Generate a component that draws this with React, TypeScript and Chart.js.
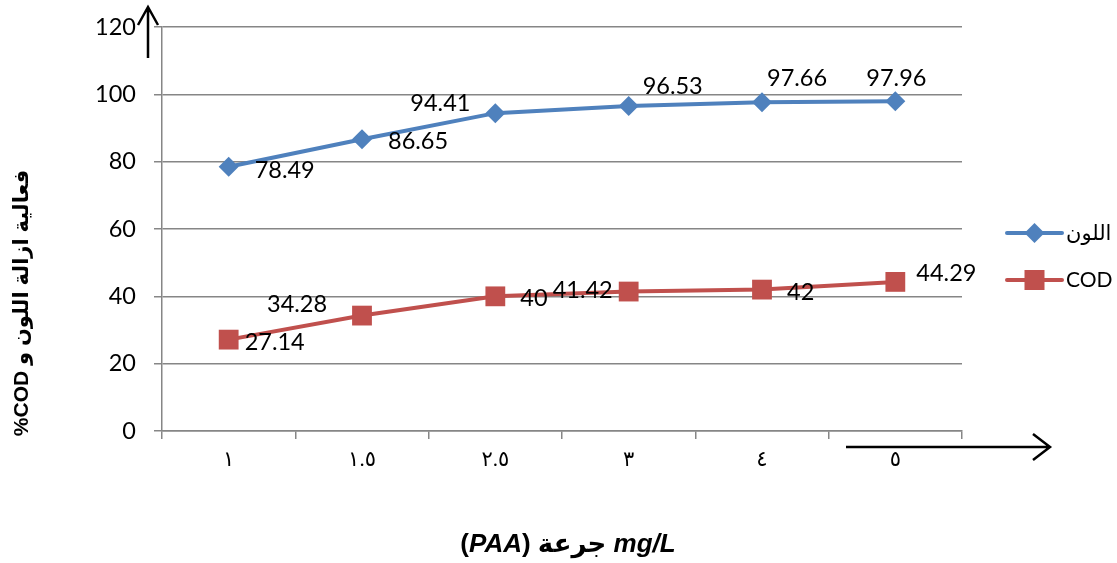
import React, { useEffect, useRef } from 'react';
import { Chart, registerables } from 'chart.js';

Chart.register(...registerables);

// ---- data ----
const categories = ['١', '١.٥', '٢.٥', '٣', '٤', '٥'];
const colorRemoval = [78.49, 86.65, 94.41, 96.53, 97.66, 97.96];
const codRemoval = [27.14, 34.28, 40, 41.42, 42, 44.29];
const seriesNames = ['اللون', 'COD'];
const yMin = 0;
const yMax = 120;
const yStep = 20;
const yTitle = 'فعالية ازالة اللون و COD%';
const xTitleUnit = 'mg/L';
const xTitleWord = 'جرعة';
const xTitleAgent = 'PAA';

// ---- styles ----
const BLUE = '#4F81BD';
const RED = '#C0504D';
const GRID = '#868686';
const LABEL_FONT = '23.5px Lato';
// per-point label offsets (px) relative to each point: [dx, dy]
const labelOffsets = [
  [[26, 4], [26, 2], [-85, -10], [14, -20], [5, -24], [-29, -23]],
  [[16, 3], [-95, -11], [25, 2], [-76, -1], [25, 3], [21, -8]],
];

function drawDiamond(ctx: CanvasRenderingContext2D, x: number, y: number, r: number, color: string) {
  ctx.beginPath();
  ctx.moveTo(x - r, y);
  ctx.lineTo(x, y - r);
  ctx.lineTo(x + r, y);
  ctx.lineTo(x, y + r);
  ctx.closePath();
  ctx.fillStyle = color;
  ctx.fill();
}

function drawSquare(ctx: CanvasRenderingContext2D, x: number, y: number, s: number, color: string) {
  ctx.fillStyle = color;
  ctx.fillRect(x - s / 2, y - s / 2, s, s);
}

function arrowLine(ctx: CanvasRenderingContext2D, x1: number, y1: number, x2: number, y2: number, head: number, half: number) {
  const ang = Math.atan2(y2 - y1, x2 - x1);
  ctx.beginPath();
  ctx.moveTo(x1, y1);
  ctx.lineTo(x2, y2);
  const bx = x2 - Math.cos(ang) * head;
  const by = y2 - Math.sin(ang) * head;
  const px = -Math.sin(ang) * half;
  const py = Math.cos(ang) * half;
  ctx.moveTo(bx + px, by + py);
  ctx.lineTo(x2, y2);
  ctx.lineTo(bx - px, by - py);
  ctx.stroke();
}

const overlayPlugin = {
  id: 'overlay',
  afterDatasetsDraw(chart: any) {
    const ctx: CanvasRenderingContext2D = chart.ctx;
    ctx.save();
    ctx.font = LABEL_FONT;
    ctx.fillStyle = '#000';
    ctx.textAlign = 'left';
    ctx.textBaseline = 'middle';
    chart.data.datasets.forEach((ds: any, di: number) => {
      const meta = chart.getDatasetMeta(di);
      meta.data.forEach((pt: any, i: number) => {
        const [dx, dy] = labelOffsets[di][i];
        ctx.fillText(String(ds.data[i]), pt.x + dx, pt.y + dy);
      });
    });
    ctx.restore();
  },
  afterDraw(chart: any) {
    const ctx: CanvasRenderingContext2D = chart.ctx;
    const a = chart.chartArea;
    ctx.save();
    // arrows
    ctx.strokeStyle = '#000';
    ctx.lineWidth = 2.5;
    ctx.lineCap = 'butt';
    arrowLine(ctx, a.left - 14, a.top + 31, a.left - 14, a.top - 20, 18, 10);
    arrowLine(ctx, a.right - 116, a.bottom + 16, a.right + 88, a.bottom + 16, 17, 13);

    // legend
    const lx0 = a.right + 45;
    const lx1 = a.right + 100;
    const lcx = (lx0 + lx1) / 2;
    const ly = [a.top + 206, a.top + 253];
    const cols = [BLUE, RED];
    ctx.lineWidth = 4;
    ctx.lineCap = 'round';
    for (let i = 0; i < 2; i++) {
      ctx.strokeStyle = cols[i];
      ctx.beginPath();
      ctx.moveTo(lx0, ly[i]);
      ctx.lineTo(lx1, ly[i]);
      ctx.stroke();
      if (i === 0) drawDiamond(ctx, lcx, ly[i], 10, BLUE);
      else drawSquare(ctx, lcx, ly[i], 20, RED);
    }
    ctx.fillStyle = '#000';
    ctx.textBaseline = 'middle';
    ctx.textAlign = 'left';
    ctx.font = '21px Lato, "DejaVu Sans"';
    seriesNames.forEach((n, i) => ctx.fillText(n, lx1 + 4, ly[i]));

    // y title (rotated, RTL)
    ctx.save();
    ctx.translate(22, a.top + 276);
    ctx.rotate(-Math.PI / 2);
    ctx.font = 'bold 21px "Liberation Sans", "DejaVu Sans"';
    (ctx as any).direction = 'rtl';
    ctx.textAlign = 'center';
    ctx.textBaseline = 'middle';
    ctx.fillText(yTitle, 0, 0);
    ctx.restore();

    // x title: visual order "(PAA) جرعة mg/L"
    const parts: [string, string][] = [
      ['(', 'bold 26px "Liberation Sans"'],
      [xTitleAgent, 'italic bold 26px "Liberation Sans"'],
      [') ', 'bold 26px "Liberation Sans"'],
      [xTitleWord, 'bold 26px "Liberation Sans", "DejaVu Sans"'],
      [' ' + xTitleUnit, 'italic bold 26px "Liberation Sans"'],
    ];
    let total = 0;
    const widths = parts.map(([t, f]) => {
      ctx.font = f;
      const w = ctx.measureText(t).width;
      total += w;
      return w;
    });
    let x = (a.left + a.right) / 2 + 6 - total / 2;
    const y = a.bottom + 114;
    ctx.textAlign = 'left';
    ctx.textBaseline = 'middle';
    parts.forEach(([t, f], i) => {
      ctx.font = f;
      ctx.fillText(t, x, y);
      x += widths[i];
    });
    ctx.restore();
  },
};

export default function App() {
  const ref = useRef<HTMLCanvasElement | null>(null);
  useEffect(() => {
    if (!ref.current) return;
    const chart = new Chart(ref.current, {
      type: 'line',
      data: {
        labels: categories,
        datasets: [
          {
            label: seriesNames[0],
            data: colorRemoval,
            borderColor: BLUE,
            backgroundColor: BLUE,
            borderWidth: 4,
            pointStyle: 'rectRot',
            pointRadius: 10,
            pointBorderWidth: 0,
            pointBackgroundColor: BLUE,
            tension: 0,
          },
          {
            label: seriesNames[1],
            data: codRemoval,
            borderColor: RED,
            backgroundColor: RED,
            borderWidth: 4,
            pointStyle: 'rect',
            pointRadius: 14,
            pointBorderWidth: 0,
            pointBackgroundColor: RED,
            tension: 0,
          },
        ],
      },
      options: {
        responsive: false,
        maintainAspectRatio: false,
        animation: false,
        layout: { autoPadding: false, padding: { left: 0, right: 155, top: 27, bottom: 0 } },
        plugins: {
          legend: { display: false },
          tooltip: { enabled: false },
          title: { display: false },
        },
        scales: {
          x: {
            type: 'category',
            offset: true,
            grid: {
              offset: true,
              drawOnChartArea: false,
              drawTicks: true,
              tickLength: 8,
              color: GRID,
              lineWidth: 1.5,
            },
            border: { color: GRID, width: 1.5 },
            ticks: {
              font: { family: '"Liberation Serif", "DejaVu Sans"', size: 21 },
              color: '#000',
              padding: 9,
              maxRotation: 0,
              autoSkip: false,
            },
            afterFit: (s: any) => {
              s.height = 132;
              s.paddingLeft = 0;
              s.paddingRight = 0;
            },
          },
          y: {
            min: yMin,
            max: yMax,
            ticks: {
              stepSize: yStep,
              font: { family: 'Lato', size: 23.5 },
              color: '#000',
              padding: 18,
            },
            grid: { color: GRID, lineWidth: 1.5, tickLength: 8 },
            border: { color: GRID, width: 1.5 },
            afterFit: (s: any) => {
              s.width = 162;
              s.paddingTop = 0;
              s.paddingBottom = 0;
            },
          },
        },
      },
      plugins: [overlayPlugin],
    } as any);
    return () => chart.destroy();
  }, []);
  return (
    <div style={{ position: 'absolute', left: 0, top: 0, width: 1117, height: 563, background: '#fff' }}>
      <canvas ref={ref} width={1117} height={563} style={{ display: 'block' }} />
    </div>
  );
}
